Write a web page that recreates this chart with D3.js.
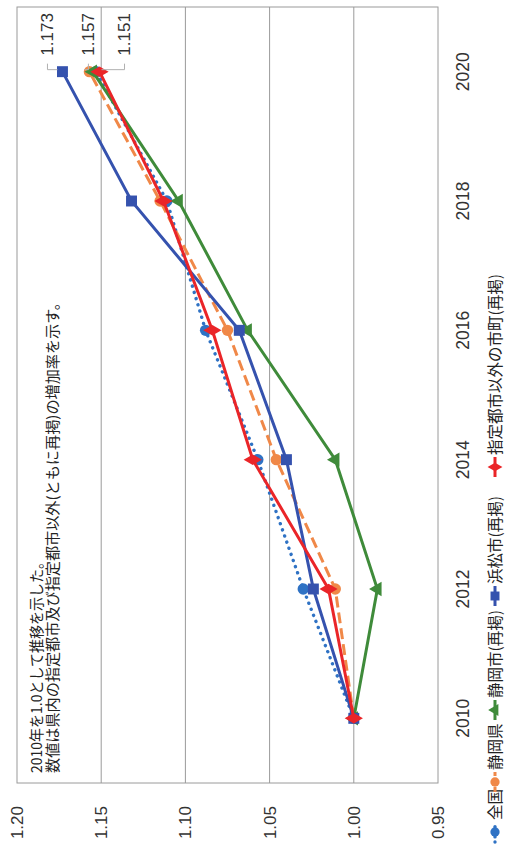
<!DOCTYPE html>
<html>
<head>
<meta charset="utf-8">
<script src="https://cdn.jsdelivr.net/npm/d3@7"></script>
<style>
  html, body { margin: 0; padding: 0; background: #fff; }
  svg { display: block; }
</style>
</head>
<body>
<script>
// Growth index (2010 = 1.0)
const years = ["2010", "2012", "2014", "2016", "2018", "2020"];
const zenkoku      = [1.000, 1.030, 1.057, 1.088, 1.111, 1.153];
const shizuokaKen  = [1.000, 1.011, 1.046, 1.075, 1.115, 1.157];
const shizuokaShi  = [1.000, 0.986, 1.011, 1.063, 1.104, 1.155];
const hamamatsu    = [1.000, 1.024, 1.040, 1.068, 1.132, 1.173];
const otherMunis   = [1.000, 1.015, 1.060, 1.084, 1.113, 1.151];
const valueTicks   = [0.95, 1.00, 1.05, 1.10, 1.15, 1.20];
const seriesNames  = ["全国", "静岡県", "静岡市(再掲)", "浜松市(再掲)", "指定都市以外の市町(再掲)"];
const noteLines    = ["2010年を1.0として推移を示した。", "数値は県内の指定都市及び指定都市以外(ともに再掲)の増加率を示す。"];

const series = [
  { name: seriesNames[0], values: zenkoku,     color: "#2f72c4", dash: "0.1 6.4", cap: "round", width: 3.4, marker: "circle" },
  { name: seriesNames[1], values: shizuokaKen, color: "#f08848", dash: "11 5",    cap: "butt",  width: 3,   marker: "circle" },
  { name: seriesNames[2], values: shizuokaShi, color: "#3f8b3a", dash: null,      cap: "butt",  width: 3,   marker: "triangle" },
  { name: seriesNames[3], values: hamamatsu,   color: "#3552ae", dash: null,      cap: "butt",  width: 3,   marker: "square" },
  { name: seriesNames[4], values: otherMunis,  color: "#ea2528", dash: null,      cap: "butt",  width: 3,   marker: "diamond" }
];

// End-of-line labels for the 2020 values (which series, vertical offset of label)
const endLabels = [
  { s: 3, dy: -15 },
  { s: 1, dy: -1 },
  { s: 4, dy: 25 }
];

const W = 844, H = 505;   // chart drawn landscape, then turned onto the page
const svg = d3.select("body").append("svg")
  .attr("width", 505).attr("height", 844);

const g = svg.append("g").attr("transform", `translate(0,${W}) rotate(-90)`);

const plot = { left: 61, right: 837, top: 17, bottom: 438 };

const x = d3.scaleBand().domain(years).range([plot.left, plot.right]);
const y = d3.scaleLinear().domain([0.95, 1.20]).range([plot.bottom, plot.top]);
const cx = yr => x(yr) + x.bandwidth() / 2;

const numFont = "'Liberation Sans', Arial, sans-serif";
const jpFont = "'Noto Sans CJK JP', 'Noto Sans', sans-serif";

// gridlines
g.append("g").selectAll("line").data(valueTicks.slice(1, -1)).join("line")
  .attr("x1", plot.left).attr("x2", plot.right)
  .attr("y1", d => y(d)).attr("y2", d => y(d))
  .attr("stroke", "#9a9a9a").attr("stroke-width", 1);

// plot frame
g.append("rect")
  .attr("x", plot.left).attr("y", plot.top)
  .attr("width", plot.right - plot.left).attr("height", plot.bottom - plot.top)
  .attr("fill", "none").attr("stroke", "#9a9a9a").attr("stroke-width", 1);

// value axis
const yAxis = d3.axisLeft(y).tickValues(valueTicks).tickFormat(d3.format(".2f")).tickSize(0).tickPadding(23);
const ya = g.append("g").attr("transform", `translate(${plot.left},0)`).call(yAxis);
ya.select(".domain").remove();
ya.selectAll("text").attr("font-family", numFont).attr("font-size", 17).attr("fill", "#333");

// year axis
const xAxis = d3.axisBottom(x).tickSize(0).tickPadding(19);
const xa = g.append("g").attr("transform", `translate(0,${plot.bottom})`).call(xAxis);
xa.select(".domain").remove();
xa.selectAll("text").attr("font-family", numFont).attr("font-size", 17.5).attr("fill", "#333");

// note inside the plot (stretched along the line to the printed width)
const noteWidths = [218, 478];
g.append("g").selectAll("text").data(noteLines).join("text")
  .attr("x", plot.left + 10)
  .attr("y", (d, i) => 42 + i * 16)
  .attr("font-family", jpFont).attr("font-size", 14.5).attr("fill", "#222")
  .attr("textLength", (d, i) => noteWidths[i])
  .attr("lengthAdjust", "spacingAndGlyphs")
  .text(d => d);

// marker shapes
function drawMarker(sel, type, color, size) {
  const sym = {
    circle: d3.symbolCircle, square: d3.symbolSquare,
    triangle: d3.symbolTriangle, diamond: d3.symbolDiamond
  }[type];
  const area = { circle: size * 0.85, square: size, triangle: size * 0.75, diamond: size * 0.8 }[type];
  sel.append("path").attr("d", d3.symbol().type(sym).size(area)).attr("fill", color);
}

const line = d3.line().x((d, i) => cx(years[i])).y(d => y(d));

series.forEach(s => {
  const sg = g.append("g");
  sg.append("path").datum(s.values)
    .attr("d", line)
    .attr("fill", "none")
    .attr("stroke", s.color)
    .attr("stroke-width", s.width)
    .attr("stroke-linecap", s.cap)
    .attr("stroke-dasharray", s.dash);
  s.values.forEach((v, i) => {
    const m = sg.append("g").attr("transform", `translate(${cx(years[i])},${y(v)})`);
    drawMarker(m, s.marker, s.color, 120);
  });
});

// labels for the 2020 values, with leader lines
const last = years.length - 1;
endLabels.forEach(l => {
  const s = series[l.s];
  const v = s.values[last];
  const mx = cx(years[last]), my = y(v);
  const ly = my + l.dy;
  const lx = mx + 16;
  const startY = l.dy < 0 ? my - 5 : my + 2;
  g.append("path")
    .attr("d", `M${mx + 2},${startY} L${mx + 2},${ly} L${mx + 8},${ly}`)
    .attr("fill", "none").attr("stroke", "#b0b0b0").attr("stroke-width", 1);
  g.append("text")
    .attr("x", lx).attr("y", ly).attr("dy", "0.35em")
    .attr("font-family", numFont).attr("font-size", 17).attr("fill", "#333")
    .text(d3.format(".3f")(v));
});

// legend
const legendStarts = [2, 52, 124, 238, 367];
const lg = g.append("g").attr("transform", `translate(0,${495})`);
series.forEach((s, i) => {
  const item = lg.append("g").attr("transform", `translate(${legendStarts[i]},0)`);
  item.append("line")
    .attr("x1", 0).attr("x2", 20).attr("y1", 0).attr("y2", 0)
    .attr("stroke", s.color).attr("stroke-width", s.width)
    .attr("stroke-linecap", s.cap)
    .attr("stroke-dasharray", s.dash === "11 5" ? "5 3" : s.dash === null ? null : "0.1 5");
  const m = item.append("g").attr("transform", "translate(10,0)");
  drawMarker(m, s.marker, s.color, 80);
  item.append("text")
    .attr("x", 22).attr("y", 0).attr("dy", "0.36em")
    .attr("font-family", jpFont).attr("font-size", 15.5).attr("fill", "#222")
    .text(s.name);
});
</script>
</body>
</html>
